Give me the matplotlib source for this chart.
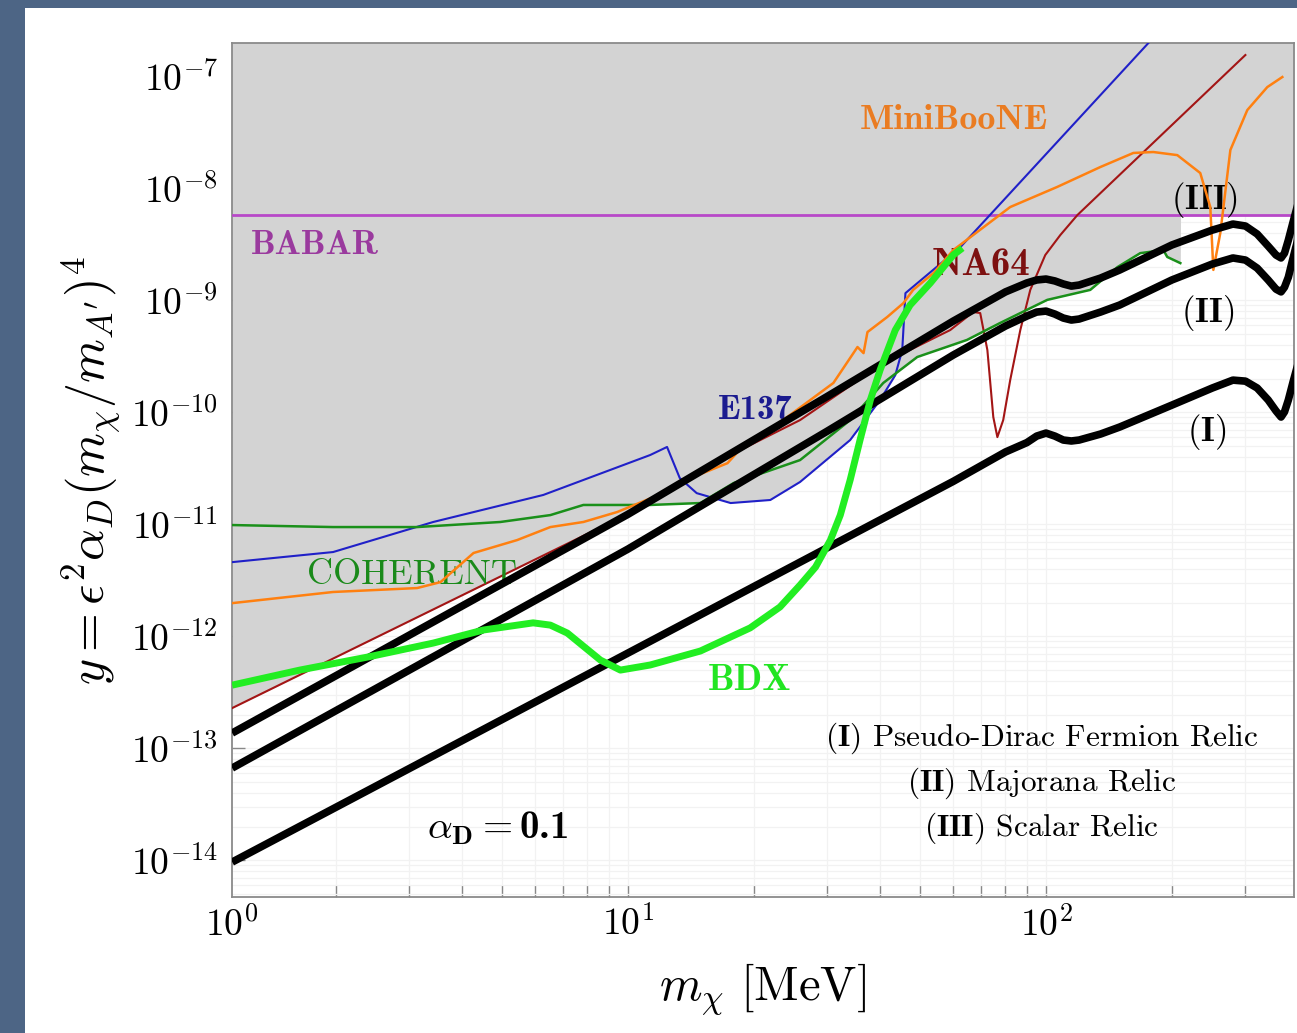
import numpy as np
import matplotlib
matplotlib.use("Agg")
import matplotlib.pyplot as plt
from matplotlib.patches import Rectangle
from matplotlib.ticker import FixedLocator, FixedFormatter, NullFormatter

plt.rcParams["mathtext.fontset"] = "cm"
plt.rcParams["font.family"] = "serif"
plt.rcParams["font.serif"] = ["cmr10", "DejaVu Serif"]
plt.rcParams["axes.unicode_minus"] = False

# ---------------- axis ranges ----------------
XMIN, XMAX = 1.127, 392.0
YMIN, YMAX = 10 ** -14.327, 10 ** -6.705

# ---------------- relic targets (alpha_D = 0.1) ----------------
relic_m = [1.13, 10, 30, 60, 80, 90, 95, 100, 105, 110, 115, 120, 135, 150, 200, 250, 280, 300,
           320, 340, 355, 365, 372, 380, 390, 400]
scalar_y = [1.37e-13, 1.23e-11, 1.39e-10, 6.53e-10, 1.19e-9, 1.43e-9, 1.52e-9, 1.55e-9, 1.49e-9,
            1.40e-9, 1.34e-9, 1.37e-9, 1.58e-9, 1.865e-9, 3.12e-9, 4.24e-9, 4.80e-9, 4.61e-9,
            3.91e-9, 3.05e-9, 2.54e-9, 2.39e-9, 2.64e-9, 3.45e-9, 5.00e-9, 7.10e-9]
majorana_y = [6.67e-14, 6.02e-12, 6.81e-11, 3.25e-10, 5.90e-10, 7.24e-10, 7.86e-10, 8.02e-10, 7.54e-10,
              6.95e-10, 6.67e-10, 6.81e-10, 7.86e-10, 9.08e-10, 1.52e-9, 2.11e-9, 2.39e-9, 2.29e-9,
              1.94e-9, 1.52e-9, 1.26e-9, 1.19e-9, 1.31e-9, 1.61e-9, 2.39e-9, 3.45e-9]
pseudodirac_y = [9.66e-15, 7.10e-13, 6.19e-12, 2.42e-11, 4.43e-11, 5.37e-11, 6.14e-11, 6.53e-11, 6.14e-11,
                 5.66e-11, 5.55e-11, 5.66e-11, 6.40e-11, 7.39e-11, 1.16e-10, 1.65e-10, 1.94e-10, 1.90e-10,
                 1.65e-10, 1.29e-10, 1.03e-10, 9.08e-11, 1.01e-10, 1.29e-10, 1.87e-10, 2.64e-10]

# ---------------- experimental limits ----------------
babar_y = 5.78e-9

e137_m = [1.13, 1.97, 3.42, 6.27, 11.3, 12.4, 13.3, 14.6, 17.6, 21.9, 25.8, 34.0, 40.1, 43.6, 45.3,
          46.1, 62.4, 175.7, 198.0]
e137_y = [4.60e-12, 5.66e-12, 1.05e-11, 1.83e-11, 4.16e-11, 4.91e-11, 2.59e-11, 1.90e-11, 1.55e-11,
          1.65e-11, 2.39e-11, 5.66e-11, 1.29e-10, 2.15e-10, 3.60e-10, 1.16e-9, 2.99e-9, 1.98e-7, 3.18e-7]

miniboone_m = [1.13, 1.97, 3.13, 3.56, 4.27, 5.43, 6.52, 7.82, 9.43, 11.5, 14.3, 17.3, 18.3, 23.5, 31.0,
               35.4, 36.6, 37.4, 41.7, 45.6, 48.1, 53.8, 60.0, 82.1, 106.4, 134.9, 161.8, 180.6, 206.1,
               233.9, 247.2, 251.4, 261.2, 276.1, 303.1, 338.4, 367.6]
miniboone_y = [1.98e-12, 2.49e-12, 2.70e-12, 3.05e-12, 5.55e-12, 7.24e-12, 9.46e-12, 1.05e-11, 1.29e-11,
               1.75e-11, 2.64e-11, 3.52e-11, 4.43e-11, 8.53e-11, 1.83e-10, 3.83e-10, 3.38e-10, 5.21e-10,
               7.10e-10, 9.46e-10, 1.24e-9, 1.75e-9, 2.81e-9, 6.81e-9, 1.03e-8, 1.55e-8, 2.07e-8, 2.11e-8,
               1.98e-8, 1.37e-8, 6.81e-9, 1.87e-9, 3.99e-9, 2.20e-8, 5.00e-8, 8.02e-8, 9.86e-8]

na64_m = [1.13, 11.3, 14.9, 25.8, 40.8, 59.0, 67.0, 69.6, 72.4, 74.8, 76.5, 79.0, 82.1, 86.8, 91.7,
          99.6, 108.2, 118.9, 299.9]
na64_y = [2.29e-13, 1.55e-11, 3.05e-11, 8.53e-11, 2.75e-10, 5.43e-10, 7.87e-10, 7.70e-10, 3.60e-10,
          9.08e-11, 6.01e-11, 8.53e-11, 1.94e-10, 5.43e-10, 1.24e-9, 2.54e-9, 3.83e-9, 5.78e-9, 1.55e-7]

coherent_m = [1.13, 1.97, 3.13, 4.95, 6.52, 7.82, 11.3, 14.9, 17.9, 25.8, 34.0, 40.8, 49.2, 64.7, 77.6,
              100.7, 127.6, 148.2, 168.1, 190.9, 195.0, 209.6]
coherent_y = [9.86e-12, 9.46e-12, 9.46e-12, 1.05e-11, 1.21e-11, 1.49e-11, 1.49e-11, 1.55e-11, 2.34e-11,
              3.75e-11, 8.53e-11, 1.83e-10, 3.12e-10, 4.43e-10, 6.27e-10, 1.01e-9, 1.24e-9, 1.98e-9,
              2.64e-9, 2.81e-9, 2.44e-9, 2.15e-9]

bdx_m = [1.13, 1.64, 2.38, 3.42, 4.51, 5.93, 6.52, 7.16, 8.59, 9.59, 11.3, 14.9, 19.6, 23.1, 25.8, 28.1,
         30.5, 32.2, 34.0, 35.9, 38.0, 40.1, 43.6, 47.3, 52.9, 60.0, 63.1]
bdx_y = [3.67e-13, 5.00e-13, 6.53e-13, 8.71e-13, 1.14e-12, 1.32e-12, 1.26e-12, 1.07e-12, 6.14e-13,
         5.00e-13, 5.55e-13, 7.40e-13, 1.19e-12, 1.83e-12, 2.87e-12, 4.16e-12, 7.24e-12, 1.21e-11,
         2.49e-11, 5.66e-11, 1.29e-10, 2.39e-10, 5.43e-10, 9.08e-10, 1.43e-9, 2.54e-9, 2.93e-9]

# ---------------- figure ----------------
W, H = 1297, 1033
fig = plt.figure(figsize=(W / 100, H / 100), dpi=100)
fig.patch.set_facecolor("#4d6585")
fig.add_artist(Rectangle((25 / W, 0), 1, 1 - 8 / H, transform=fig.transFigure,
                         facecolor="white", edgecolor="none", zorder=0))

ax = fig.add_axes([231.7 / W, 1 - 897 / H, (1294 - 231.7) / W, (897 - 43.3) / H])
ax.set_facecolor("white")
ax.set_xscale("log")
ax.set_yscale("log")
ax.set_xlim(XMIN, XMAX)
ax.set_ylim(YMIN, YMAX)

# faint background grid
ax.grid(True, which="both", color="#f2f2f2", lw=0.9, zorder=0)
ax.set_axisbelow(True)

# excluded region: lower envelope of the experimental limits
lg = np.linspace(np.log10(XMIN), np.log10(XMAX), 4000)
env = np.full_like(lg, np.log10(babar_y))
sources = [(e137_m, e137_y, 1e9), (coherent_m, coherent_y, 1e9),
           (na64_m, na64_y, 65.0), (miniboone_m, miniboone_y, 240.0)]
for mm, yy, mcut in sources:
    lm = np.log10(mm)
    ly = np.log10(yy)
    vals = np.interp(lg, lm, ly)
    inside = (lg >= lm.min()) & (lg <= min(lm.max(), np.log10(mcut)))
    env = np.where(inside, np.minimum(env, vals), env)
ax.fill_between(10 ** lg, 10 ** env, YMAX * 10, color="#d3d3d3", lw=0, zorder=1)

# limits
ax.axhline(babar_y, color="#b848c8", lw=2.0, zorder=3)
ax.plot(e137_m, e137_y, color="#2020c8", lw=1.5, zorder=3)
ax.plot(na64_m, na64_y, color="#a31515", lw=1.5, zorder=3)
ax.plot(coherent_m, coherent_y, color="#1a901a", lw=1.8, zorder=3)
ax.plot(miniboone_m, miniboone_y, color="#ff8010", lw=1.8, zorder=4)

# relic targets
for yy in (scalar_y, majorana_y, pseudodirac_y):
    ax.plot(relic_m, yy, color="black", lw=5.5, solid_capstyle="butt",
            solid_joinstyle="round", zorder=5)

# BDX projection
ax.plot(bdx_m, bdx_y, color="#22ee22", lw=5.0, solid_capstyle="butt",
        solid_joinstyle="round", zorder=6)

# ---------------- ticks ----------------
ax.xaxis.set_major_locator(FixedLocator([10, 100]))
ax.xaxis.set_major_formatter(FixedFormatter([r"$10^{1}$", r"$10^{2}$"]))
xminor = [k * 10 ** d for d in range(0, 3) for k in range(2, 10)]
ax.xaxis.set_minor_locator(FixedLocator([v for v in xminor if v < XMAX]))
ax.xaxis.set_minor_formatter(NullFormatter())
yt = [10.0 ** -k for k in range(14, 6, -1)]
ax.yaxis.set_major_locator(FixedLocator(yt))
ax.yaxis.set_major_formatter(FixedFormatter([r"$10^{-%d}$" % k for k in range(14, 6, -1)]))
ax.yaxis.set_minor_locator(FixedLocator([k * 10.0 ** -d for d in range(15, 6, -1) for k in range(2, 10)]))
ax.yaxis.set_minor_formatter(NullFormatter())
ax.tick_params(which="both", direction="in", color="#888888", width=1.0, labelsize=27,
               top=False, right=False)
ax.tick_params(axis="x", which="both", length=9, pad=6)
ax.tick_params(axis="y", which="major", length=9, pad=10)
ax.tick_params(axis="y", which="minor", length=0)
ax.text(XMIN, -0.011, r"$10^{0}$", transform=ax.get_xaxis_transform(),
        ha="center", va="top", fontsize=27)
for s in ax.spines.values():
    s.set_color("#8a8a8a")
    s.set_linewidth(1.3)

ax.set_xlabel(r"$m_\chi\ [\mathrm{MeV}]$", fontsize=35, labelpad=14)
ax.set_ylabel(r"$y = \epsilon^2\alpha_D(m_\chi/m_{A^\prime})^4$", fontsize=36, labelpad=6)

# ---------------- annotations ----------------
def lab(x, y, s, color, size=22, family="cmb10"):
    ax.text(x, y, s, color=color, fontsize=size, ha="center", va="center", family=family)

lab(1.78, 3.12e-9, "BABAR", "#9a3a9e", size=25)
lab(60.3, 4.07e-8, "MiniBooNE", "#ea7c22", size=26)
lab(70.0, 2.06e-9, "NA64", "#7d1010", size=28)
lab(20.2, 1.03e-10, "E137", "#1b1b8f", size=25)
lab(3.05, 3.5e-12, "COHERENT", "#1a8a1a", size=26, family="cmr10")
lab(19.5, 4.07e-13, "BDX", "#22e522", size=27)
lab(240, 7.87e-9, r"$(\mathbf{III})$", "black", size=25)
lab(243, 7.71e-10, r"$(\mathbf{II})$", "black", size=25)
lab(243, 6.67e-11, r"$(\mathbf{I})$", "black", size=25)
lab(4.87, 1.94e-14, r"$\alpha_{\mathbf{D}} = $0.1", "black", size=28)
lab(97.5, 1.24e-13, r"$(\mathbf{I})$ Pseudo-Dirac Fermion Relic", "black", size=22.5, family="cmr10")
lab(97.5, 4.90e-14, r"$(\mathbf{II})$ Majorana Relic", "black", size=22.5, family="cmr10")
lab(97.5, 1.94e-14, r"$(\mathbf{III})$ Scalar Relic", "black", size=22.5, family="cmr10")

fig.savefig("out.png", dpi=100, facecolor=fig.get_facecolor())
